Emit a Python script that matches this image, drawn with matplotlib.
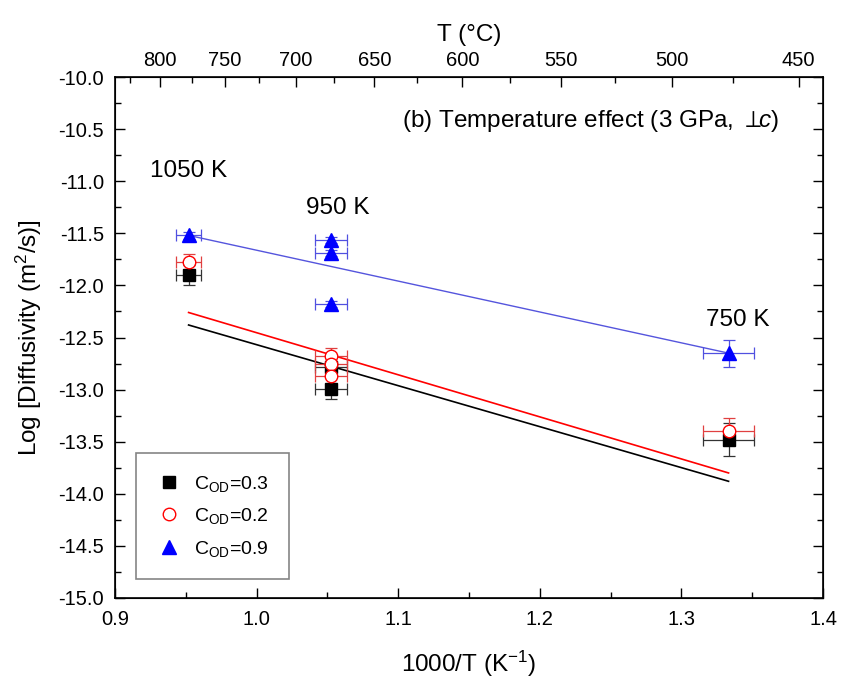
import numpy as np
import matplotlib
matplotlib.use("Agg")
import matplotlib.pyplot as plt
from matplotlib.lines import Line2D
from matplotlib.ticker import MultipleLocator

plt.rcParams["font.family"] = ["Liberation Sans", "DejaVu Sans"]
plt.rcParams["mathtext.fontset"] = "custom"
plt.rcParams["mathtext.rm"] = "Liberation Sans"
plt.rcParams["mathtext.it"] = "Liberation Sans:italic"
plt.rcParams["mathtext.fallback"] = "stixsans"

# data: 1000/T (K^-1), log D, errors
x_03 = [0.952, 1.0526, 1.0526, 1.3333]
y_03 = [-11.90, -12.78, -12.99, -13.48]
xe_03 = [0.009, 0.011, 0.011, 0.018]
ye_03 = [0.10, 0.10, 0.10, 0.16]

x_02 = [0.952, 1.0526, 1.0526, 1.0526, 1.3333]
y_02 = [-11.78, -12.68, -12.75, -12.87, -13.40]
xe_02 = [0.009, 0.011, 0.011, 0.011, 0.018]
ye_02 = [0.08, 0.08, 0.08, 0.08, 0.13]

x_09 = [0.952, 1.0526, 1.0526, 1.0526, 1.3333]
y_09 = [-11.52, -11.565, -11.69, -12.18, -12.65]
xe_09 = [0.009, 0.011, 0.011, 0.011, 0.018]
ye_09 = [0.03, 0.03, 0.03, 0.03, 0.13]

# fit lines (end points)
fit_x = [0.952, 1.3333]
fit_03 = [-12.38, -13.88]
fit_02 = [-12.26, -13.80]
fit_09 = [-11.52, -12.65]

temps_c_major = [800, 750, 700, 650, 600, 550, 500, 450]
temps_c_minor = [825, 775, 725, 675, 625, 575, 525, 475]

fig = plt.figure(figsize=(8.41, 6.81), dpi=100)
ax = fig.add_axes([0.1367, 0.1219, 0.8419, 0.765])

ax.plot(fit_x, fit_03, color="black", lw=1.2)
ax.plot(fit_x, fit_02, color="red", lw=1.2)
ax.plot(fit_x, fit_09, color="#5555dd", lw=1.0)

ekw = dict(elinewidth=0.9, capsize=4, capthick=0.9, ls="none")
ax.errorbar(x_03, y_03, xerr=xe_03, yerr=ye_03, fmt="s", color="black", ms=8,
            ecolor="#333333", **ekw)
ax.errorbar(x_02, y_02, xerr=xe_02, yerr=ye_02, fmt="o", color="red", mfc="white",
            mec="red", ms=9, ecolor="#e04040", **ekw)
ax.errorbar(x_09, y_09, xerr=xe_09, yerr=ye_09, fmt="^", color="blue", ms=10,
            ecolor="#5050e0", **ekw)

ax.set_xlim(0.9, 1.4)
ax.set_ylim(-15.0, -10.0)
ax.xaxis.set_major_locator(MultipleLocator(0.1))
ax.xaxis.set_minor_locator(MultipleLocator(0.05))
ax.yaxis.set_major_locator(MultipleLocator(0.5))
ax.yaxis.set_minor_locator(MultipleLocator(0.25))
ax.xaxis.set_major_formatter(plt.FormatStrFormatter("%.1f"))
ax.yaxis.set_major_formatter(plt.FormatStrFormatter("%.1f"))
ax.tick_params(which="both", direction="in", right=True, top=False, labelsize=14.5)
ax.tick_params(which="major", length=7, width=1)
ax.tick_params(which="minor", length=4, width=1)
ax.tick_params(axis="x", pad=9)
ax.tick_params(axis="y", pad=8)
for s in ax.spines.values():
    s.set_linewidth(1.2)

ax.set_xlabel("1000/T (K$^{-1}$)", fontsize=17.5, labelpad=14)
ax.set_ylabel("Log [Diffusivity (m$^{2}$/s)]", fontsize=17.5, labelpad=10)

ax.text(1.369, -10.42, "(b) Temperature effect (3 GPa, $\\perp\\!\\!\\it{c}$)",
        ha="right", va="center", fontsize=17.5)
ax.text(0.952, -10.9, "1050 K", ha="center", va="center", fontsize=17.5)
ax.text(1.057, -11.26, "950 K", ha="center", va="center", fontsize=17.5)
ax.text(1.34, -12.33, "750 K", ha="center", va="center", fontsize=17.5)

handles = [
    Line2D([], [], marker="s", color="black", ls="none", ms=8),
    Line2D([], [], marker="o", color="red", mfc="white", ls="none", ms=9),
    Line2D([], [], marker="^", color="blue", ls="none", ms=10),
]
labels = ["C$_{\\rm OD}$=0.3", "C$_{\\rm OD}$=0.2", "C$_{\\rm OD}$=0.9"]
leg = ax.legend(handles, labels, loc="lower left", bbox_to_anchor=(0.03, 0.036),
                fontsize=14, frameon=True, fancybox=False, edgecolor="#666666",
                handletextpad=0.6, borderpad=1.05, labelspacing=0.65,
                handlelength=1.3, borderaxespad=0)
leg.get_frame().set_linewidth(1.2)

top = ax.twiny()
top.set_xlim(ax.get_xlim())
top.set_xticks([1000.0 / (t + 273.15) for t in temps_c_major])
top.set_xticklabels([str(t) for t in temps_c_major])
top.set_xticks([1000.0 / (t + 273.15) for t in temps_c_minor], minor=True)
top.tick_params(which="both", direction="in", labelsize=14.5, pad=5)
top.tick_params(which="major", length=7, width=1)
top.tick_params(which="minor", length=4, width=1)
top.set_xlabel("T (°C)", fontsize=17.5, labelpad=7)

fig.savefig("out.png", dpi=100)
